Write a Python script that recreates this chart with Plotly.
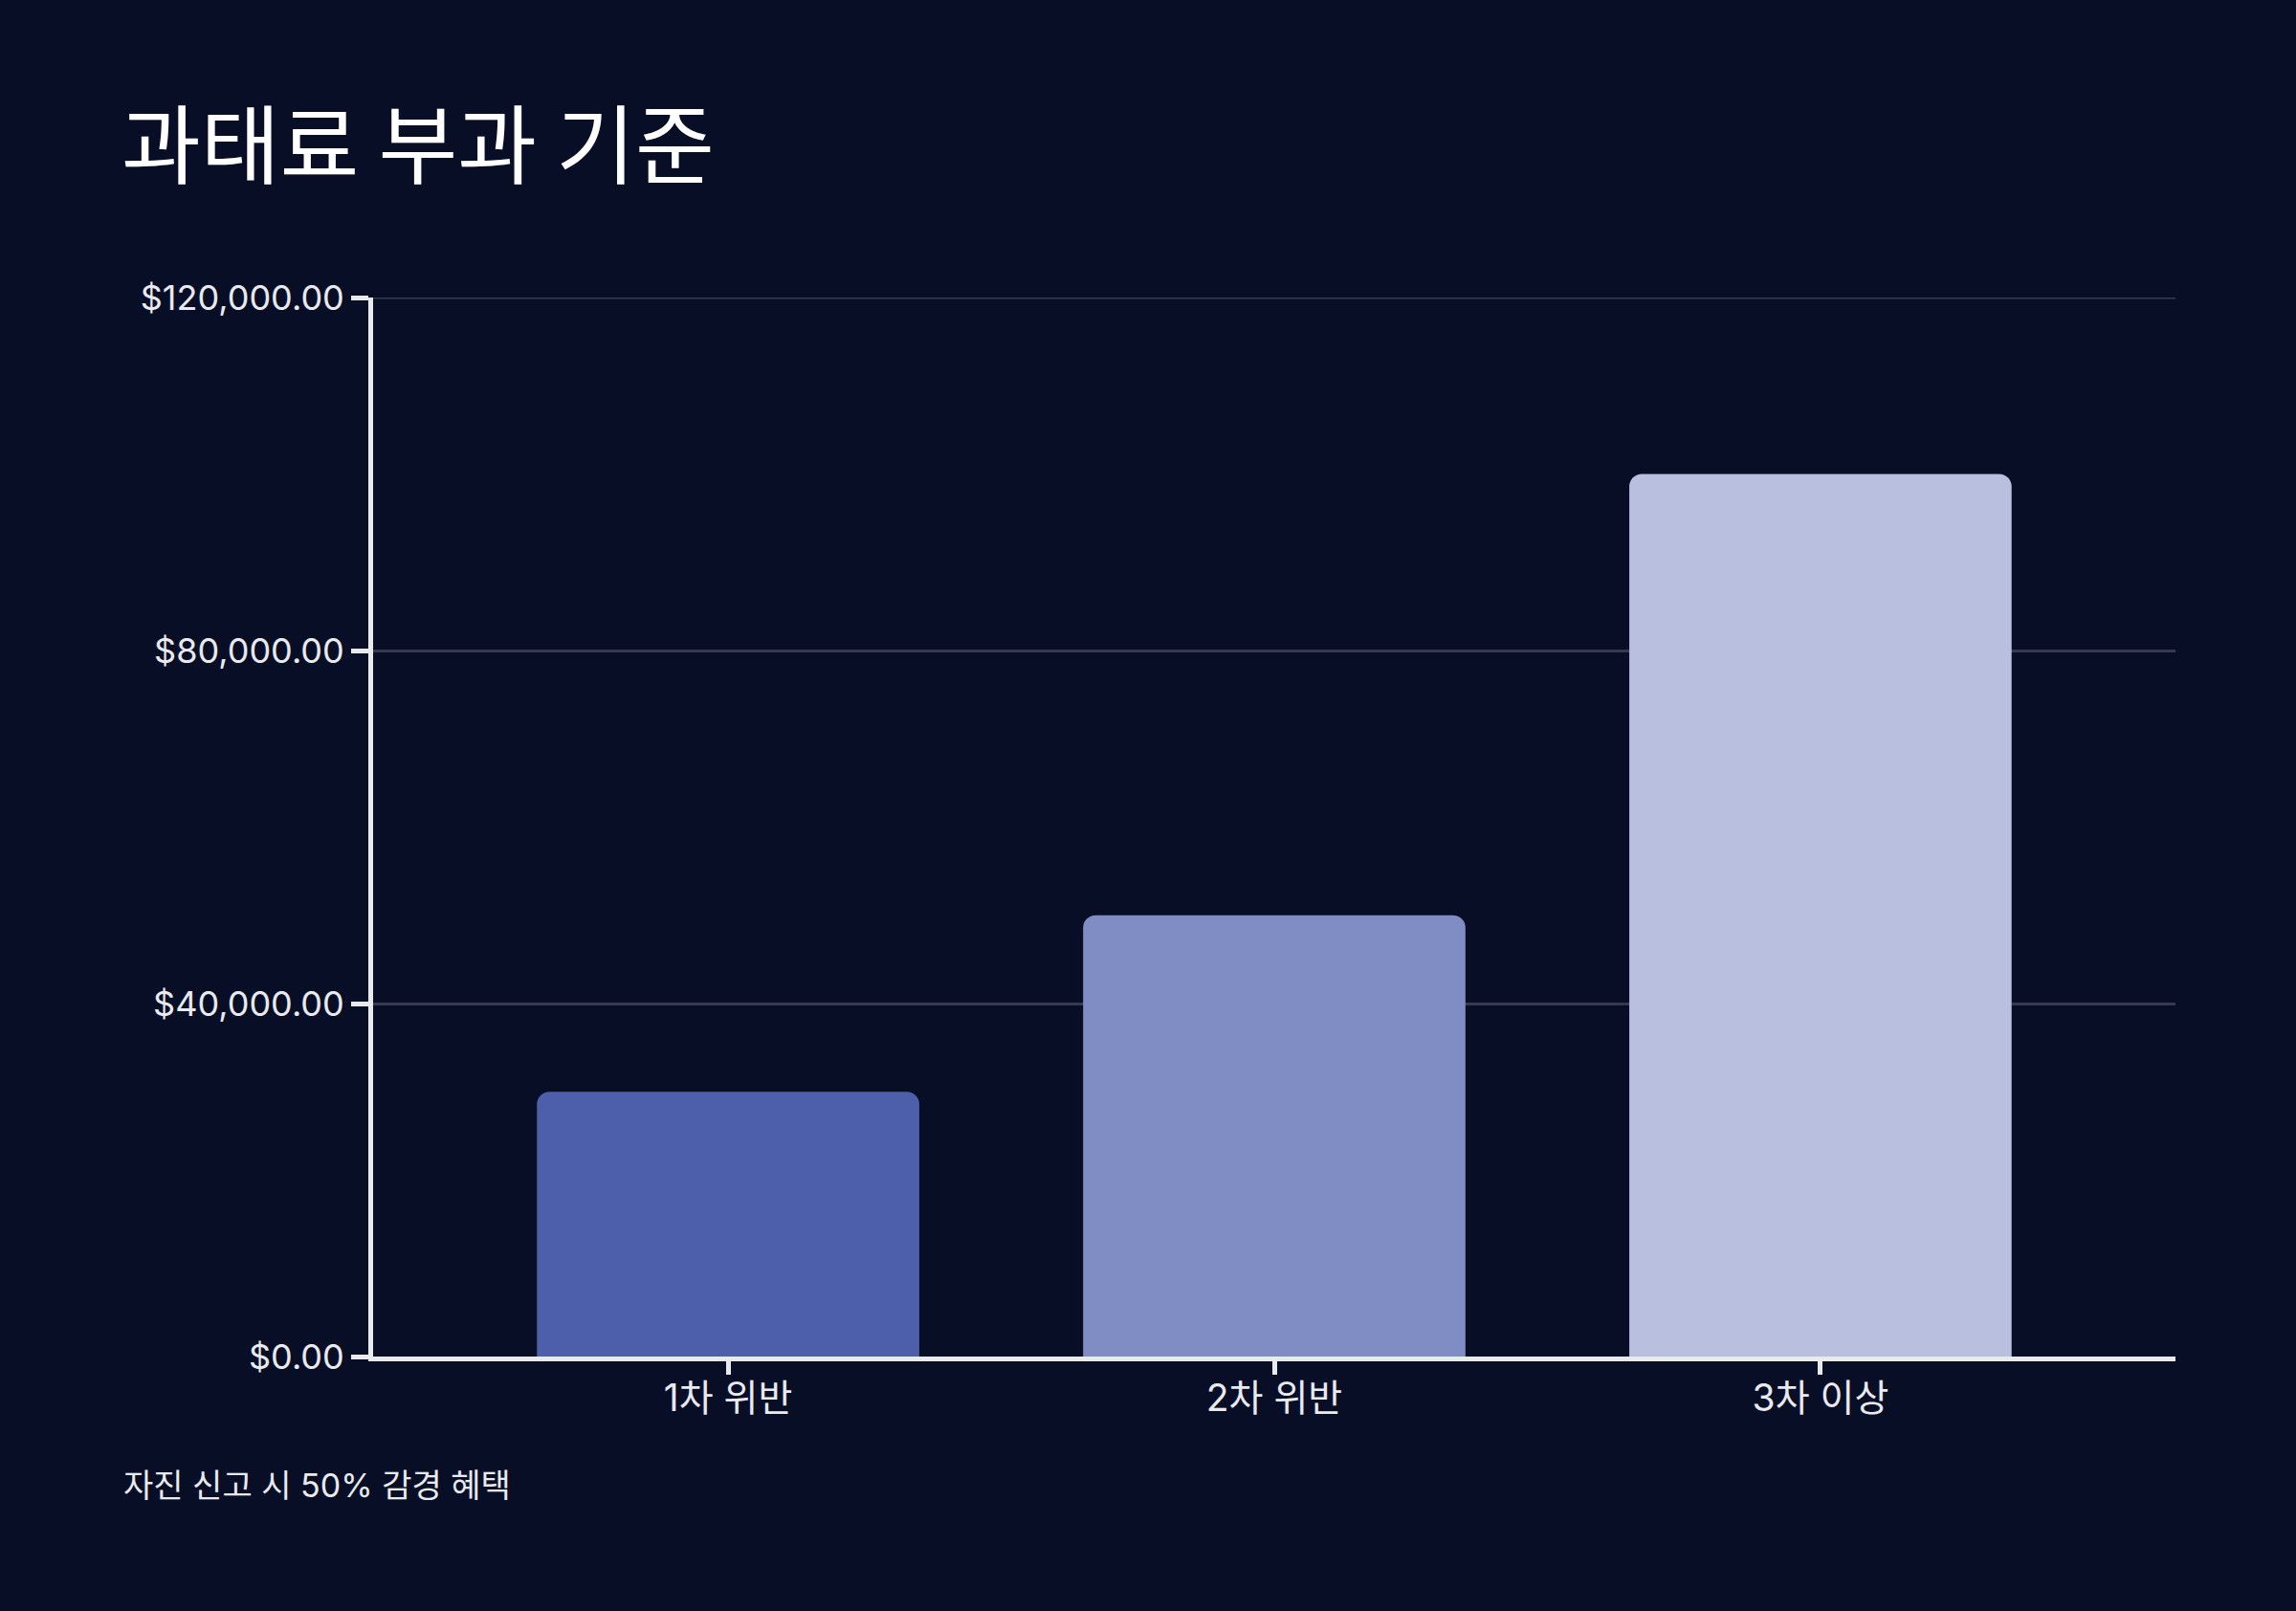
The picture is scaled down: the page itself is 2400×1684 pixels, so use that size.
import plotly.graph_objects as go

# Data
categories = ["1차 위반", "2차 위반", "3차 이상"]
fines = [30000, 50000, 100000]
bar_colors = ["#4D5FAB", "#808DC4", "#B8BFDF"]
y_ticks = [0, 40000, 80000, 120000]
y_tick_labels = ["$0.00", "$40,000.00", "$80,000.00", "$120,000.00"]

title_text = "과태료 부과 기준"
note_text = "자진 신고 시 50% 감경 혜택"

bg = "#090E27"
axis_col = "#E8EAEE"
grid_col = "#363A50"
font_family = "Inter, Noto Sans CJK KR, sans-serif"

fig = go.Figure(
    go.Bar(
        x=categories,
        y=fines,
        width=0.7,
        marker=dict(color=bar_colors, line=dict(width=0), cornerradius=13),
        hoverinfo="skip",
    )
)

# Layout
fig.update_layout(
    width=2400,
    height=1684,
    paper_bgcolor=bg,
    plot_bgcolor=bg,
    margin=dict(l=390, r=126, t=311, b=266),
    showlegend=False,
    font=dict(family=font_family, color=axis_col, size=35),
    title=dict(
        text=title_text,
        x=127 / 2400,
        xanchor="left",
        xref="container",
        y=1 - 185 / 1684,
        yanchor="bottom",
        yref="container",
        font=dict(size=90, color="#FFFFFF", family="Noto Sans CJK KR, sans-serif"),
    ),
)

fig.update_xaxes(
    range=[-0.65, 2.65],
    showline=True,
    linecolor=axis_col,
    linewidth=5,
    ticks="outside",
    ticklen=14,
    tickwidth=5,
    tickcolor=axis_col,
    tickfont=dict(size=39, color=axis_col),
    ticklabelstandoff=-9,
    showgrid=False,
    zeroline=False,
)

fig.update_yaxes(
    range=[0, 120000],
    tickvals=y_ticks,
    ticktext=y_tick_labels,
    showline=True,
    linecolor=axis_col,
    linewidth=5,
    ticks="outside",
    ticklen=18,
    tickwidth=5,
    tickcolor=axis_col,
    tickfont=dict(size=36, color=axis_col),
    showgrid=True,
    gridcolor=grid_col,
    gridwidth=3,
    zeroline=False,
)

# top gridline (plotly drops the one on the edge)
fig.add_shape(
    type="line",
    xref="paper",
    yref="y",
    x0=0,
    x1=1,
    y0=y_ticks[-1],
    y1=y_ticks[-1],
    line=dict(color=grid_col, width=3),
    layer="below",
)

# Footnote
fig.add_annotation(
    text=note_text,
    xref="paper",
    yref="paper",
    x=(127 - 390) / 1884,
    y=(1418 - 1552) / 1107,
    xanchor="left",
    yanchor="middle",
    showarrow=False,
    font=dict(size=34, color=axis_col, family=font_family),
)

fig.write_html(
    "out.html",
    config={"displayModeBar": False},
    post_script="document.body.style.margin='0';",
)
